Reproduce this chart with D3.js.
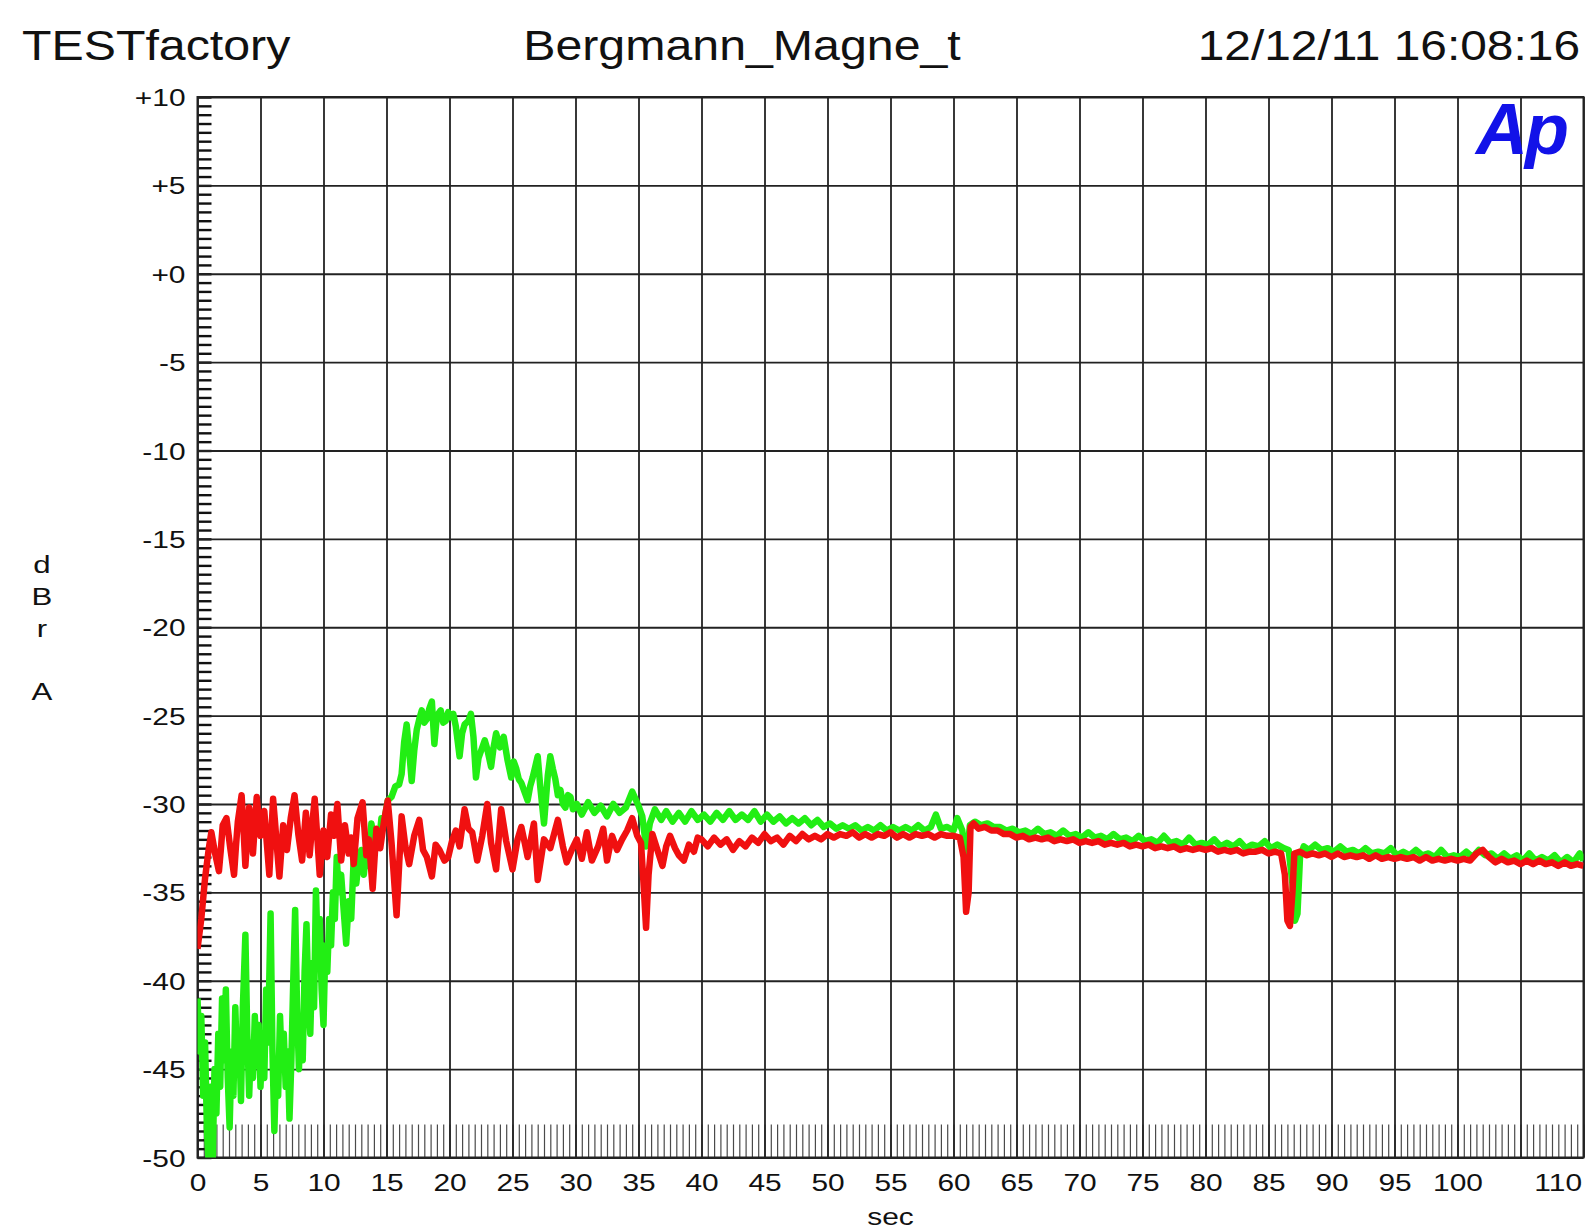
<!DOCTYPE html>
<html>
<head>
<meta charset="utf-8">
<script src="https://cdn.jsdelivr.net/npm/d3@7"></script>
<style>
  body { margin: 0; background: #fff; }
  svg { display: block; }
</style>
</head>
<body>
<div id="chart-area"></div>
<script>
// header texts
var headerLeft = 'TESTfactory';
var headerMid = 'Bergmann_Magne_t';
var headerRight = '12/12/11 16:08:16';
var yLabelLines = ['d', 'B', 'r', '', 'A'];
var xLabel = 'sec';

// tick labels
var yTickValues = [10, 5, 0, -5, -10, -15, -20, -25, -30, -35, -40, -45, -50];
var xTickValues = [0, 5, 10, 15, 20, 25, 30, 35, 40, 45, 50, 55, 60, 65, 70, 75, 80, 85, 90, 95, 100, 110];

// traces: [sec, dBr]
var greenTrace = [
  [0, -41.0], [0.15, -44.0], [0.3, -42.0], [0.45, -46.5], [0.6, -43.5], [0.75, -48.5], [0.9, -50.5],
  [1.05, -46.0], [1.2, -50.5], [1.35, -45.0], [1.5, -47.5], [1.65, -43.0], [1.8, -46.0], [1.95, -41.0],
  [2.1, -44.5], [2.25, -40.5], [2.4, -45.5], [2.55, -48.3], [2.7, -44.0], [2.85, -46.5], [3.0, -41.5],
  [3.15, -45.0], [3.3, -43.0], [3.45, -46.8], [3.6, -41.5], [3.8, -37.4], [3.95, -43.0], [4.1, -46.5],
  [4.25, -43.5], [4.4, -45.5], [4.55, -42.0], [4.7, -44.8], [4.85, -42.5], [5.0, -46.0], [5.15, -43.0],
  [5.3, -45.5], [5.45, -40.5], [5.6, -43.5], [5.8, -36.2], [5.95, -44.0], [6.1, -48.5], [6.25, -44.5],
  [6.4, -46.5], [6.55, -42.0], [6.7, -45.0], [6.85, -43.0], [7.0, -46.0], [7.15, -44.0], [7.3, -47.8],
  [7.45, -44.5], [7.6, -40.0], [7.75, -36.0], [7.9, -41.5], [8.05, -45.0], [8.2, -42.0], [8.35, -44.5],
  [8.5, -39.5], [8.65, -36.8], [8.8, -41.0], [8.95, -43.0], [9.1, -39.0], [9.25, -41.5], [9.4, -34.9],
  [9.55, -38.5], [9.7, -36.5], [9.85, -40.5], [10.0, -42.5], [10.15, -38.0], [10.3, -39.5], [10.45, -36.5],
  [10.6, -38.0], [10.75, -35.0], [10.9, -36.5], [11.05, -33.0], [11.2, -35.0], [11.4, -34.0], [11.6, -36.0],
  [11.8, -37.9], [12.0, -35.5], [12.2, -36.5], [12.4, -33.0], [12.6, -34.5], [12.8, -33.2], [13.0, -32.6],
  [13.2, -34.0], [13.4, -32.5], [13.6, -33.5], [13.8, -31.1], [14.0, -32.0], [14.2, -31.5], [14.4, -32.2],
  [14.6, -30.8], [14.8, -31.0], [15.1, -29.8], [15.4, -29.6], [15.7, -29.0], [16.0, -28.9], [16.2, -28.3],
  [16.4, -26.5], [16.6, -25.5], [16.8, -27.0], [17.0, -28.7], [17.2, -27.0], [17.4, -25.8], [17.6, -25.2],
  [17.8, -24.7], [18.0, -25.4], [18.2, -25.2], [18.4, -24.6], [18.6, -24.2], [18.8, -26.6], [19.0, -25.0],
  [19.3, -24.7], [19.5, -25.4], [19.7, -25.3], [19.9, -24.8], [20.1, -25.1], [20.3, -24.9], [20.5, -25.6],
  [20.8, -27.3], [21.0, -26.0], [21.2, -25.5], [21.5, -25.3], [21.7, -24.9], [21.9, -26.2], [22.1, -28.5],
  [22.3, -27.4], [22.5, -27.0], [22.8, -26.4], [23.0, -26.9], [23.3, -27.9], [23.5, -26.8], [23.7, -26.0],
  [24.0, -26.8], [24.3, -26.2], [24.6, -27.5], [24.9, -28.5], [25.1, -27.6], [25.3, -28.0], [25.5, -28.6],
  [25.7, -28.8], [26.0, -29.4], [26.2, -29.8], [26.4, -29.0], [26.6, -28.5], [26.8, -27.9], [27.0, -27.3],
  [27.2, -29.0], [27.5, -31.1], [27.8, -28.4], [28.0, -27.3], [28.2, -28.0], [28.4, -28.6], [28.6, -29.5],
  [28.8, -29.2], [29.0, -30.0], [29.2, -30.2], [29.4, -29.5], [29.6, -29.6], [29.8, -30.3], [30.1, -30.0],
  [30.5, -30.6], [31.0, -29.9], [31.5, -30.5], [32.0, -30.1], [32.5, -30.7], [33.0, -30.0], [33.5, -30.5],
  [34.0, -30.2], [34.5, -29.3], [35.0, -30.1], [35.3, -30.7], [35.6, -32.4], [35.9, -31.1], [36.3, -30.3],
  [36.8, -30.9], [37.2, -30.4], [37.7, -31.0], [38.2, -30.5], [38.7, -31.0], [39.2, -30.4], [39.7, -30.9],
  [40.2, -30.6], [40.7, -31.0], [41.2, -30.5], [41.7, -30.9], [42.2, -30.4], [42.7, -30.9], [43.2, -30.6],
  [43.7, -30.9], [44.2, -30.4], [44.7, -31.0], [45.2, -30.6], [45.7, -31.0], [46.2, -30.7], [46.7, -31.1],
  [47.2, -30.8], [47.7, -31.1], [48.2, -30.8], [48.7, -31.2], [49.2, -30.9], [49.7, -31.3], [50.2, -31.1],
  [50.7, -31.4], [51.2, -31.2], [51.7, -31.4], [52.2, -31.2], [52.7, -31.5], [53.2, -31.3], [53.7, -31.5],
  [54.2, -31.2], [54.7, -31.5], [55.2, -31.3], [55.7, -31.5], [56.2, -31.3], [56.7, -31.5], [57.2, -31.2],
  [57.7, -31.5], [58.2, -31.3], [58.6, -30.6], [59.0, -31.4], [59.5, -31.3], [60.0, -31.5], [60.3, -30.8],
  [60.7, -31.5], [61.0, -33.5], [61.3, -31.2], [61.7, -31.0], [62.2, -31.2], [62.7, -31.1], [63.2, -31.3],
  [63.7, -31.3], [64.2, -31.5], [64.7, -31.4], [65.2, -31.6], [65.7, -31.5], [66.2, -31.7], [66.7, -31.4],
  [67.2, -31.7], [67.7, -31.6], [68.2, -31.8], [68.7, -31.5], [69.2, -31.8], [69.7, -31.7], [70.2, -31.9],
  [70.7, -31.6], [71.2, -31.9], [71.7, -31.8], [72.2, -32.0], [72.7, -31.7], [73.2, -32.0], [73.7, -31.9],
  [74.2, -32.1], [74.7, -31.8], [75.2, -32.1], [75.7, -32.0], [76.2, -32.2], [76.7, -31.8], [77.2, -32.2],
  [77.7, -32.1], [78.2, -32.3], [78.7, -31.9], [79.2, -32.3], [79.7, -32.2], [80.2, -32.3], [80.7, -32.0],
  [81.2, -32.4], [81.7, -32.2], [82.2, -32.4], [82.7, -32.1], [83.2, -32.5], [83.7, -32.3], [84.2, -32.4],
  [84.7, -32.1], [85.2, -32.5], [85.7, -32.3], [86.2, -32.5], [86.6, -32.6], [86.9, -34.5], [87.1, -36.6],
  [87.3, -36.2], [87.5, -33.0], [87.8, -32.4], [88.2, -32.6], [88.7, -32.3], [89.2, -32.6], [89.7, -32.5],
  [90.2, -32.7], [90.7, -32.4], [91.2, -32.7], [91.7, -32.6], [92.2, -32.8], [92.7, -32.5], [93.2, -32.8],
  [93.7, -32.7], [94.2, -32.8], [94.7, -32.5], [95.2, -32.9], [95.7, -32.7], [96.2, -32.9], [96.7, -32.6],
  [97.2, -32.9], [97.7, -32.8], [98.2, -33.0], [98.7, -32.6], [99.2, -33.0], [99.7, -32.9], [100.2, -33.0],
  [100.7, -32.7], [101.2, -33.0], [101.7, -32.6], [102.2, -32.9], [102.7, -32.8], [103.2, -33.1], [103.7, -32.8],
  [104.2, -33.1], [104.7, -32.9], [105.2, -33.2], [105.7, -32.8], [106.2, -33.2], [106.7, -33.0], [107.2, -33.2],
  [107.7, -32.9], [108.2, -33.3], [108.7, -33.0], [109.2, -33.3], [109.7, -32.8], [110.0, -33.2]
];

var redTrace = [
  [0, -38.2], [0.3, -36.5], [0.6, -34.2], [0.9, -32.5], [1.1, -31.6], [1.4, -32.8], [1.7, -33.8],
  [1.85, -32.6], [2.0, -31.2], [2.3, -30.8], [2.6, -32.5], [2.9, -34.0], [3.05, -32.4], [3.2, -31.0],
  [3.5, -29.5], [3.65, -31.4], [3.8, -33.5], [4.1, -30.2], [4.25, -31.0], [4.4, -32.8], [4.7, -29.6],
  [4.85, -30.8], [5.0, -31.8], [5.3, -30.4], [5.5, -32.2], [5.7, -34.0], [6.0, -29.7], [6.15, -31.0],
  [6.3, -32.4], [6.5, -34.1], [6.8, -31.2], [7.1, -32.6], [7.4, -30.8], [7.7, -29.5], [7.85, -30.6],
  [8.0, -31.7], [8.3, -33.2], [8.6, -30.5], [8.9, -32.9], [9.1, -31.2], [9.3, -29.7], [9.5, -31.8],
  [9.7, -34.0], [10.0, -31.5], [10.3, -33.0], [10.6, -30.6], [10.85, -31.8], [11.1, -30.0], [11.4, -33.2],
  [11.7, -31.2], [12.0, -32.8], [12.2, -31.9], [12.4, -33.4], [12.7, -30.8], [13.1, -29.9], [13.4, -32.9],
  [13.6, -32.0], [13.9, -34.8], [14.2, -31.4], [14.5, -32.5], [14.8, -31.0], [15.1, -29.8], [15.4, -32.2],
  [15.8, -36.3], [16.2, -30.7], [16.5, -32.4], [16.8, -33.4], [17.2, -31.8], [17.6, -30.9], [17.9, -32.6],
  [18.2, -33.0], [18.6, -34.1], [18.9, -32.3], [19.2, -32.6], [19.6, -33.2], [19.9, -33.0], [20.2, -32.1],
  [20.5, -31.5], [20.8, -32.4], [21.2, -30.3], [21.5, -31.4], [21.8, -31.6], [22.2, -33.2], [22.6, -31.8],
  [23.0, -30.0], [23.3, -32.2], [23.7, -33.7], [24.1, -30.3], [24.5, -32.1], [25.0, -33.7], [25.4, -32.0],
  [25.7, -31.3], [26.0, -32.3], [26.2, -33.0], [26.7, -31.1], [27.0, -34.3], [27.5, -32.0], [28.0, -32.5],
  [28.6, -30.9], [29.0, -32.4], [29.3, -33.3], [29.7, -32.6], [30.1, -32.0], [30.5, -33.1], [30.9, -31.6],
  [31.3, -33.2], [31.8, -32.4], [32.2, -31.4], [32.5, -33.2], [32.9, -31.8], [33.3, -32.6], [33.7, -32.0],
  [34.1, -31.5], [34.5, -30.8], [34.9, -31.8], [35.2, -32.2], [35.4, -34.5], [35.6, -37.0], [35.8, -34.0],
  [36.1, -31.7], [36.5, -32.6], [36.9, -33.5], [37.2, -32.4], [37.5, -31.8], [37.9, -32.5], [38.2, -32.9],
  [38.6, -33.2], [39.0, -32.3], [39.4, -32.7], [39.7, -31.9], [40.0, -32.0], [40.5, -32.4], [41.0, -31.9],
  [41.5, -32.3], [42.0, -32.0], [42.5, -32.6], [43.0, -32.1], [43.5, -32.4], [44.0, -31.9], [44.5, -32.2],
  [45.0, -31.7], [45.5, -32.1], [46.0, -31.9], [46.5, -32.3], [47.0, -31.8], [47.5, -32.1], [48.0, -31.7],
  [48.5, -32.0], [49.0, -31.8], [49.5, -32.0], [50.0, -31.7], [50.5, -31.9], [51.0, -31.7], [51.5, -31.8],
  [52.0, -31.6], [52.5, -31.9], [53.0, -31.7], [53.5, -31.9], [54.0, -31.7], [54.5, -31.8], [55.0, -31.6],
  [55.5, -31.9], [56.0, -31.7], [56.5, -31.9], [57.0, -31.7], [57.5, -31.8], [58.0, -31.7], [58.5, -31.9],
  [59.0, -31.7], [59.5, -31.8], [60.0, -31.8], [60.5, -31.9], [60.8, -33.0], [61.0, -36.1], [61.2, -35.0],
  [61.35, -31.3], [61.6, -31.1], [62.0, -31.4], [62.5, -31.3], [63.0, -31.5], [63.5, -31.5], [64.0, -31.7],
  [64.5, -31.7], [65.0, -31.9], [65.5, -31.8], [66.0, -32.0], [66.5, -31.9], [67.0, -32.0], [67.5, -31.9],
  [68.0, -32.1], [68.5, -32.0], [69.0, -32.1], [69.5, -32.0], [70.0, -32.2], [70.5, -32.1], [71.0, -32.2],
  [71.5, -32.1], [72.0, -32.3], [72.5, -32.2], [73.0, -32.3], [73.5, -32.2], [74.0, -32.4], [74.5, -32.3],
  [75.0, -32.4], [75.5, -32.3], [76.0, -32.5], [76.5, -32.4], [77.0, -32.5], [77.5, -32.4], [78.0, -32.6],
  [78.5, -32.5], [79.0, -32.6], [79.5, -32.5], [80.0, -32.6], [80.5, -32.5], [81.0, -32.7], [81.5, -32.6],
  [82.0, -32.7], [82.5, -32.6], [83.0, -32.8], [83.5, -32.7], [84.0, -32.7], [84.5, -32.6], [85.0, -32.8],
  [85.5, -32.7], [86.0, -32.8], [86.3, -34.0], [86.5, -36.6], [86.7, -36.9], [86.9, -35.0], [87.05, -32.8],
  [87.5, -32.7], [88.0, -32.9], [88.5, -32.8], [89.0, -32.9], [89.5, -32.8], [90.0, -33.0], [90.5, -32.8],
  [91.0, -33.0], [91.5, -32.9], [92.0, -33.0], [92.5, -32.9], [93.0, -33.1], [93.5, -32.9], [94.0, -33.1],
  [94.5, -33.0], [95.0, -33.1], [95.5, -33.0], [96.0, -33.1], [96.5, -33.0], [97.0, -33.2], [97.5, -33.0],
  [98.0, -33.2], [98.5, -33.1], [99.0, -33.2], [99.5, -33.1], [100.0, -33.2], [100.5, -33.1], [101.0, -33.2],
  [101.5, -32.8], [102.0, -32.6], [102.5, -33.0], [103.0, -33.3], [103.5, -33.1], [104.0, -33.3], [104.5, -33.2],
  [105.0, -33.4], [105.5, -33.2], [106.0, -33.4], [106.5, -33.2], [107.0, -33.4], [107.5, -33.3], [108.0, -33.5],
  [108.5, -33.3], [109.0, -33.5], [109.5, -33.4], [110.0, -33.5]
];

var margin = { left: 197.5, right: 4.5, top: 97, bottom: 72.5 };
var fullWidth = 1588;
var fullHeight = 1230;
var width = fullWidth - margin.left - margin.right;
var height = fullHeight - margin.top - margin.bottom;
var font = '"Liberation Sans", Arial, Helvetica, sans-serif';

var svg = d3.select('#chart-area')
  .append('svg')
  .attr('width', fullWidth)
  .attr('height', fullHeight)
  .style('font-family', font);

// Headers
svg.append('text')
  .attr('transform', 'translate(22, 60) scale(1.15, 1)')
  .attr('font-size', '42px')
  .attr('fill', '#111')
  .text(headerLeft);

svg.append('text')
  .attr('transform', 'translate(742, 60) scale(1.15, 1)')
  .attr('text-anchor', 'middle')
  .attr('font-size', '42px')
  .attr('fill', '#111')
  .text(headerMid);

svg.append('text')
  .attr('transform', 'translate(1580, 60) scale(1.14, 1)')
  .attr('text-anchor', 'end')
  .attr('font-size', '42px')
  .attr('fill', '#111')
  .text(headerRight);

// Y label, one letter per line
svg.append('g')
  .selectAll('text')
  .data(yLabelLines)
  .enter()
  .append('text')
    .attr('transform', function(d, i) {
      return 'translate(42, ' + (573 + i * 31.75) + ') scale(1.3, 1)';
    })
    .attr('text-anchor', 'middle')
    .attr('font-size', '24px')
    .attr('fill', '#111')
    .text(function(d) { return d; });

var g = svg.append('g')
  .attr('transform', 'translate(' + margin.left + ', ' + margin.top + ')');

// Scales
var x = d3.scaleLinear()
  .domain([0, 110])
  .range([0, width]);

var y = d3.scaleLinear()
  .domain([-50, 10])
  .range([height, 0]);

// Minor ticks
var xMinor = d3.range(0, 221).map(function(d) { return d / 2; });
var yMinor = d3.range(-100, 21).map(function(d) { return d / 2; });

var bottomTicks = g.append('g')
  .attr('transform', 'translate(0, ' + height + ')')
  .call(d3.axisTop(x).tickValues(xMinor).tickSize(33).tickFormat(''));
bottomTicks.select('.domain').remove();
bottomTicks.selectAll('line').attr('stroke', '#4a4a4a').attr('stroke-width', 1.2);

var leftTicks = g.append('g')
  .call(d3.axisRight(y).tickValues(yMinor).tickSize(14).tickFormat(''));
leftTicks.select('.domain').remove();
leftTicks.selectAll('line').attr('stroke', '#111').attr('stroke-width', 2.4);

// Grid
var xGrid = g.append('g')
  .attr('transform', 'translate(0, ' + height + ')')
  .call(d3.axisBottom(x).tickValues(d3.range(0, 111, 5)).tickSize(-height).tickFormat(''));
xGrid.select('.domain').remove();
xGrid.selectAll('line').attr('stroke', '#222').attr('stroke-width', 1.8);

var yGrid = g.append('g')
  .call(d3.axisLeft(y).tickValues(yTickValues).tickSize(-width).tickFormat(''));
yGrid.select('.domain').remove();
yGrid.selectAll('line').attr('stroke', '#222').attr('stroke-width', 1.8);

// Frame
g.append('rect')
  .attr('width', width)
  .attr('height', height)
  .attr('fill', 'none')
  .attr('stroke', '#222')
  .attr('stroke-width', 2);

// Tick labels
var yAxis = g.append('g')
  .call(d3.axisLeft(y).tickValues(yTickValues).tickSize(0).tickFormat(function(d) {
    return (d >= 0 ? '+' : '-') + Math.abs(d);
  }));
yAxis.select('.domain').remove();
yAxis.attr('font-family', font);
yAxis.selectAll('text')
  .attr('x', null)
  .attr('dy', null)
  .attr('font-size', '23px')
  .attr('fill', '#111')
  .attr('transform', 'translate(-12, 8.5) scale(1.3, 1)');

var xAxis = g.append('g')
  .attr('transform', 'translate(0, ' + height + ')')
  .call(d3.axisBottom(x).tickValues(xTickValues).tickSize(0));
xAxis.select('.domain').remove();
xAxis.attr('font-family', font);
xAxis.selectAll('text')
  .attr('y', null)
  .attr('dy', null)
  .attr('font-size', '23px')
  .attr('fill', '#111')
  .attr('transform', 'translate(0, 33) scale(1.3, 1)');

// last label sits flush with the right edge
xAxis.selectAll('.tick')
  .filter(function(d) { return d === 110; })
  .select('text')
    .attr('text-anchor', 'end')
    .attr('transform', 'translate(-2, 33) scale(1.3, 1)');

// X label
svg.append('text')
  .attr('transform', 'translate(' + (margin.left + width / 2) + ', 1225) scale(1.3, 1)')
  .attr('text-anchor', 'middle')
  .attr('font-size', '23px')
  .attr('fill', '#111')
  .text(xLabel);

// Traces
g.append('clipPath')
  .attr('id', 'plot-clip')
  .append('rect')
    .attr('width', width)
    .attr('height', height);

var line = d3.line()
  .x(function(d) { return x(d[0]); })
  .y(function(d) { return y(d[1]); });

var traces = g.append('g').attr('clip-path', 'url(#plot-clip)');

traces.append('path')
  .datum(greenTrace)
  .attr('d', line)
  .attr('fill', 'none')
  .attr('stroke', '#22ee14')
  .attr('stroke-width', 6.5)
  .attr('stroke-linejoin', 'round');

traces.append('path')
  .datum(redTrace)
  .attr('d', line)
  .attr('fill', 'none')
  .attr('stroke', '#f01010')
  .attr('stroke-width', 6.5)
  .attr('stroke-linejoin', 'round');

// Ap logo
svg.append('text')
  .attr('x', 1476)
  .attr('y', 154)
  .attr('font-size', '72px')
  .attr('font-weight', 'bold')
  .attr('font-style', 'italic')
  .attr('letter-spacing', '-3px')
  .attr('fill', '#1212e8')
  .text('Ap');
</script>
</body>
</html>
